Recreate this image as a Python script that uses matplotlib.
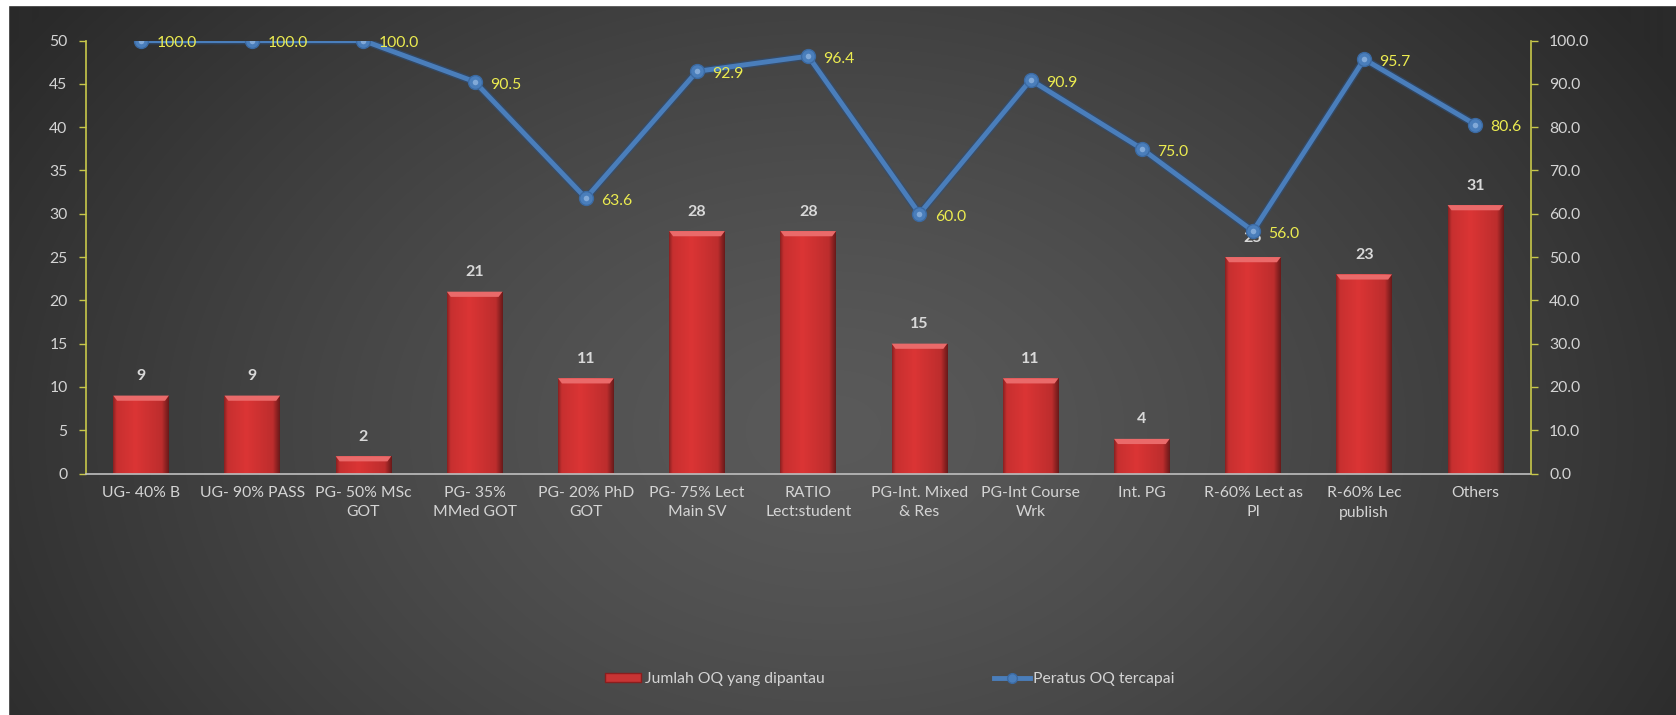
import numpy as np
import matplotlib
matplotlib.use("Agg")
import matplotlib.pyplot as plt
from matplotlib.patches import Rectangle, Polygon, Patch
from matplotlib.lines import Line2D

plt.rcParams['font.family'] = ['Lato', 'DejaVu Sans']

categories = [
    "UG- 40% B", "UG- 90% PASS", "PG- 50% MSc\nGOT", "PG- 35%\nMMed GOT",
    "PG- 20% PhD\nGOT", "PG- 75% Lect\nMain SV", "RATIO\nLect:student",
    "PG-Int. Mixed\n& Res", "PG-Int Course\nWrk", "Int. PG",
    "R-60% Lect as\nPI", "R-60% Lec\npublish", "Others",
]
jumlah_oq = [9, 9, 2, 21, 11, 28, 28, 15, 11, 4, 25, 23, 31]
peratus_oq = [100.0, 100.0, 100.0, 90.5, 63.6, 92.9, 96.4, 60.0, 90.9, 75.0, 56.0, 95.7, 80.6]
left_ticks = list(range(0, 51, 5))
right_ticks = [float(v) for v in range(0, 101, 10)]

W, H = 1676, 715
fig = plt.figure(figsize=(W / 100, H / 100), dpi=100)

# dark radial background
bg = fig.add_axes([0, 0, 1, 1], zorder=-10)
bg.set_axis_off()
yy, xx = np.mgrid[0:H, 0:W]
d = np.sqrt(((xx - 830) / 980.0) ** 2 + ((yy - 430) / 700.0) ** 2)
d = np.clip(d, 0, 1) ** 1.3
c_in = np.array([0x5a, 0x5a, 0x5a]) / 255.0
c_out = np.array([0x2a, 0x2a, 0x2a]) / 255.0
img = c_in[None, None, :] * (1 - d[..., None]) + c_out[None, None, :] * d[..., None]
bg.imshow(img, extent=[0, W, H, 0], aspect='auto')
bg.set_xlim(0, W)
bg.set_ylim(H, 0)
bg.add_patch(Rectangle((0, 0), W, 5, color='white', zorder=5))
bg.add_patch(Rectangle((0, 0), 8, H, color='white', zorder=5))

ax = fig.add_axes([85.5 / W, 1 - 473.5 / H, (1531 - 85.5) / W, (473.5 - 40.6) / H])
ax.set_facecolor('none')
x = np.arange(len(categories))
bw = 0.5
bars = ax.bar(x, jumlah_oq, width=bw, color='#c83434', zorder=2)

# shaded bar faces with a bevelled top
grad = np.linspace(0, 1, 64)
prof = np.interp(grad, [0, 0.06, 0.4, 0.88, 1.0], [0.55, 0.78, 0.86, 0.74, 0.42])
bar_img = np.zeros((1, 64, 3))
bar_img[0, :, 0] = prof
bar_img[0, :, 1] = prof * 0.24
bar_img[0, :, 2] = prof * 0.24
bev = 0.6
for b, v in zip(bars, jumlah_oq):
    x0 = b.get_x()
    w = b.get_width()
    im = ax.imshow(bar_img, extent=[x0, x0 + w, 0, v], aspect='auto', zorder=2.1,
                   interpolation='bilinear')
    im.set_clip_path(b)
    ins = w * 0.07
    ax.add_patch(Polygon([[x0, v], [x0 + w, v], [x0 + w - ins, v - bev], [x0 + ins, v - bev]],
                         closed=True, facecolor='#ea6a6a', edgecolor='none', zorder=2.2))
    ax.annotate(f"{v}", (x0 + w / 2, v), xytext=(0, 9), textcoords='offset points',
                ha='center', va='bottom', color='#d9d9d9', fontsize=11.5, fontweight='bold',
                zorder=6)

ax.set_xlim(-0.5, len(categories) - 0.5)
ax.set_ylim(0, 50)
ax.set_yticks(left_ticks)
ax.set_xticks(x)
ax.set_xticklabels(categories, linespacing=1.5)
ax.tick_params(axis='x', length=0, pad=9, colors='#d4d4d4', labelsize=11.3)
ax.tick_params(axis='y', length=5, width=1, color='#c8c84a', labelcolor='#d4d4d4',
               labelsize=11.3, pad=8)
for s in ['top', 'right']:
    ax.spines[s].set_visible(False)
ax.spines['left'].set_color('#c8c84a')
ax.spines['left'].set_linewidth(1.2)
ax.spines['bottom'].set_color('#bfbfbf')
ax.spines['bottom'].set_linewidth(1.2)

ax2 = ax.twinx()
ax2.set_ylim(0, 100)
ax2.set_yticks(right_ticks)
ax2.set_yticklabels([f"{v:.1f}" for v in right_ticks])
ax2.tick_params(axis='y', length=5, width=1, color='#c8c84a', labelcolor='#d4d4d4',
                labelsize=11.3, pad=8)
for s in ['top', 'left', 'bottom']:
    ax2.spines[s].set_visible(False)
ax2.spines['right'].set_color('#c8c84a')
ax2.spines['right'].set_linewidth(1.2)
ax2.plot(x, peratus_oq, color='#2c4f7c', lw=5.5, alpha=0.6, zorder=3,
         solid_capstyle='round')
ax2.plot(x, peratus_oq, color='#4a7ebb', lw=3.5, marker='o', ms=10,
         mfc='#4a7ebb', mec='#3b6aa3', mew=1, zorder=4, solid_joinstyle='round')
ax2.plot(x, peratus_oq, ls='none', marker='o', ms=4, mfc='#8fb4e0', mec='none', zorder=4.1,
         alpha=0.8)
for xi, p in zip(x, peratus_oq):
    ax2.annotate(f"{p:.1f}", (xi, p), xytext=(11, -2), textcoords='offset points',
                 ha='left', va='center', color='#ecec50', fontsize=11.3, zorder=6)

handles = [
    Patch(facecolor='#c83434', edgecolor='#8a1e1e'),
    Line2D([0], [0], color='#4a7ebb', lw=3.5, marker='o', ms=7, mfc='#4a7ebb', mec='#3b6aa3'),
]
leg = fig.legend(handles, ["Jumlah OQ yang dipantau", "Peratus OQ tercapai"],
                 loc='center', bbox_to_anchor=(0.531, 1 - 679 / H), ncol=2, frameon=False,
                 fontsize=11.3, labelcolor='#d4d4d4', handlelength=2.3, handleheight=0.5,
                 handletextpad=0.2, columnspacing=10.8)

fig.savefig("out.png", dpi=100)
